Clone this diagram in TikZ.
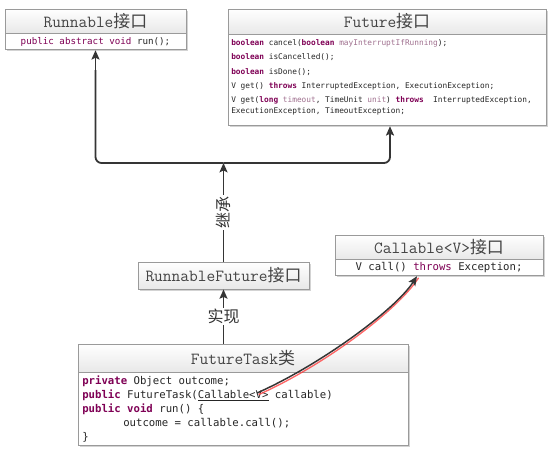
\documentclass[tikz,border=0pt]{standalone}
\usepackage{fontspec}
\usetikzlibrary{arrows.meta,shadows}
\newfontfamily\cjk{Noto Sans CJK SC}
\newfontfamily\cde{DejaVu Sans Mono}
\definecolor{kwc}{HTML}{7F0055}
\definecolor{pmc}{HTML}{A0708F}
\definecolor{bordc}{HTML}{9A9A9A}
\definecolor{ttlc}{HTML}{444444}
\definecolor{lnc}{HTML}{353535}
\newcommand{\kwd}[1]{{\bfseries\color{kwc}#1}}
\newcommand{\kwn}[1]{{\color{kwc}#1}}
\newcommand{\pmn}[1]{{\color{pmc}#1}}
\tikzset{
  boxpart/.style={draw=bordc, line width=0.6pt, inner sep=0pt,
    drop shadow={shadow xshift=1.2pt, shadow yshift=-1.2pt, opacity=0.35, fill=gray}},
  titlepart/.style={boxpart, top color=white, bottom color=black!9,
    font=\ttfamily\fontsize{12.7}{14}\selectfont, text=ttlc},
  bodypart/.style={boxpart, fill=white},
  codetext/.style={inner sep=0pt, align=left, text=black!85},
  arr/.style={draw=lnc, line width=1.35pt, -{Stealth[length=7pt,width=6pt,inset=1.4pt]}},
  lbl/.style={fill=white, inner sep=1pt, font=\cjk\fontsize{12}{12}\selectfont, text=black!80}
}
\begin{document}
\begin{tikzpicture}[x=0.75pt,y=-0.75pt]
\useasboundingbox (0,0) rectangle (559,453);

% Runnable
\node[titlepart, minimum width=0.75pt*181, minimum height=0.75pt*24] (runT) at (95.5,21) {Runnable{\cjk 接口}};
\node[bodypart, minimum width=0.75pt*181, minimum height=0.75pt*16, anchor=north,
  font=\cde\fontsize{6.9}{8}\selectfont, text=black!85] (runB) at (runT.south)
  {\kwn{public abstract void} run();};

% Future
\node[titlepart, minimum width=0.75pt*318, minimum height=0.75pt*25] (futT) at (387,21.5) {Future{\cjk 接口}};
\node[bodypart, minimum width=0.75pt*318, minimum height=0.75pt*91, anchor=north] (futB) at (futT.south) {};
\node[codetext, anchor=north west, font=\cde\fontsize{5.85}{7.9}\selectfont] (futtxt) at (231,39.3)
  {\kwd{boolean} cancel(\kwd{boolean} \pmn{mayInterruptIfRunning});\\[2.8pt]
   \kwd{boolean} isCancelled();\\[2.8pt]
   \kwd{boolean} isDone();\\[2.8pt]
   V get() \kwd{throws} InterruptedException, ExecutionException;\\[2.8pt]
   V get(\kwd{long} \pmn{timeout}, TimeUnit \pmn{unit}) \kwd{throws}\ \ InterruptedException,\\
   ExecutionException, TimeoutException;};

% Callable
\node[titlepart, minimum width=0.75pt*208, minimum height=0.75pt*24] (calT) at (439,247) {Callable<V>{\cjk 接口}};
\node[bodypart, minimum width=0.75pt*208, minimum height=0.75pt*16, anchor=north,
  font=\cde\fontsize{8}{9}\selectfont, text=black!85] (calB) at (calT.south)
  {V call() \kwn{throws} Exception;};

% RunnableFuture
\node[titlepart, minimum width=0.75pt*171, minimum height=0.75pt*27] (rf) at (223.5,275.5) {RunnableFuture{\cjk 接口}};

% FutureTask
\node[titlepart, minimum width=0.75pt*330, minimum height=0.75pt*28] (ftT) at (243,358) {FutureTask{\cjk 类}};
\node[bodypart, minimum width=0.75pt*330, minimum height=0.75pt*73, anchor=north] (ftB) at (ftT.south) {};
\node[codetext, anchor=north west, font=\cde\fontsize{8}{10.35}\selectfont] (fttxt) at (82,376)
  {\kwd{private} Object outcome;\\
   \kwd{public} FutureTask(\underline{Callable<V>} callable)\\
   \kwd{public} \kwd{void} run() \{\\
   \hspace*{30.75pt}outcome = callable.call();\\
   \}};

% connectors
\coordinate (j) at (223.5,163);
\draw[arr] (rf.north) -- node[lbl, rotate=90] (lj) {继承} (j);
\draw[arr, rounded corners=4.5pt, -] (j) -| ([yshift=-0.75pt*20]runB.south);
\draw[arr] ([yshift=-0.75pt*20]runB.south) -- (runB.south);
\draw[arr, rounded corners=4.5pt, -] (j) -| ([xshift=0.75pt*3,yshift=-0.75pt*20]futB.south);
\draw[arr] ([xshift=0.75pt*3,yshift=-0.75pt*20]futB.south) -- ([xshift=0.75pt*3]futB.south);
\draw[arr] (rf.south |- ftT.north) -- node[lbl] (ls) {实现} (rf.south);

% curve
\coordinate (cs) at (257,393);
\coordinate (ce) at ([xshift=-0.75pt*22]calB.south);
\draw[red!75, line width=1pt, opacity=0.8] ([shift={(1.6,1.6)}]cs) .. controls (321.6,366.6) and (396.6,311.6) .. ([shift={(1.6,1.6)}]ce);
\draw[arr, line width=1.1pt] (cs) .. controls (320,365) and (395,310) .. (ce);
\end{tikzpicture}
\end{document}
